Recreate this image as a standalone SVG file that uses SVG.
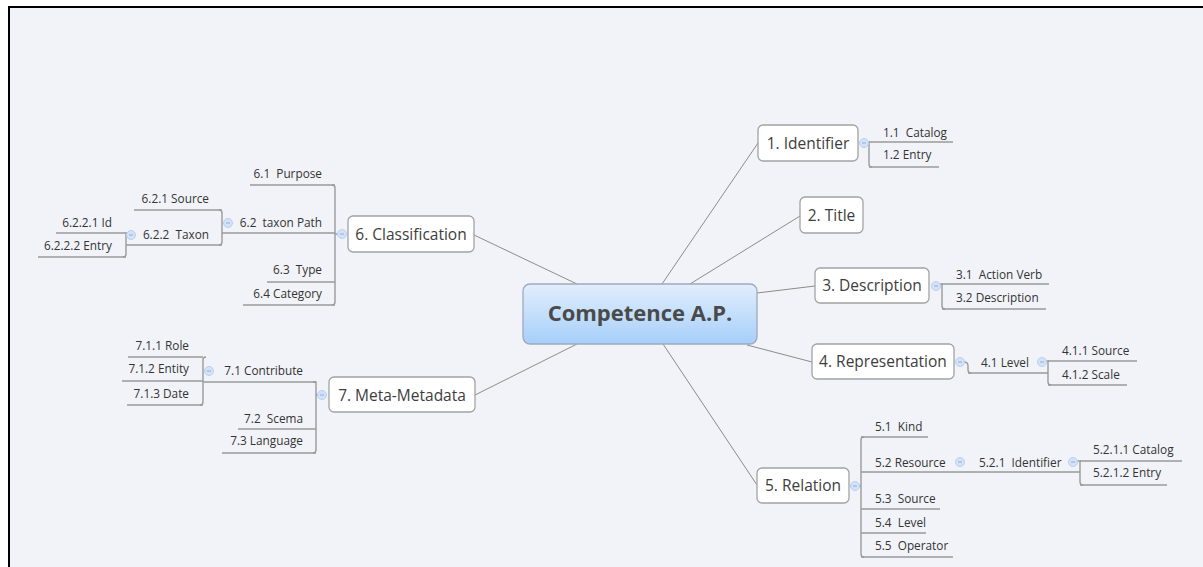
<svg xmlns="http://www.w3.org/2000/svg" width="1203" height="567" viewBox="0 0 1203 567">
  <defs>
    <linearGradient id="rootFill" x1="0" y1="0" x2="0" y2="1">
      <stop offset="0" stop-color="#e2eefc"/>
      <stop offset="1" stop-color="#a6cffa"/>
    </linearGradient>
    <g id="collapse">
      <circle r="4.5" fill="#d3e2f7" stroke="#b9cff0" stroke-width="1"/>
      <line x1="-2" y1="0" x2="2" y2="0" stroke="#8eaee0" stroke-width="1"/>
    </g>
  </defs>
  <style>
    .topic rect { fill: #ffffff; stroke: #a3a3a3; stroke-width: 1.3; }
    .topic text { font-family: "Open Sans", "Noto Sans", sans-serif; font-size: 15.5px; fill: #3d3d3d; text-anchor: middle; }
    .sub text { font-family: "Open Sans", "Noto Sans", sans-serif; font-size: 11.8px; fill: #333333; white-space: pre; }
    .sub line { stroke: #9a9a9a; stroke-width: 1.4; }
    .left text { text-anchor: end; }
    .link { fill: none; stroke: #8c8c8c; stroke-width: 1; }
    .bracket { fill: none; stroke: #9a9a9a; stroke-width: 1.4; }
  </style>

  <!-- canvas -->
  <rect x="0" y="0" width="1203" height="567" fill="#ffffff"/>
  <rect x="9" y="7" width="1194" height="560" fill="#f2f3f8"/>
  <line x1="8" y1="7" x2="1203" y2="7" stroke="#000000" stroke-width="2"/>
  <line x1="9" y1="6" x2="9" y2="567" stroke="#000000" stroke-width="2"/>

  <!-- connectors -->
  <g id="connectors">
    <line class="link" x1="662" y1="284" x2="758" y2="143"/>
    <line class="link" x1="690" y1="284" x2="800" y2="216"/>
    <line class="link" x1="757" y1="293" x2="815" y2="286"/>
    <line class="link" x1="747" y1="345" x2="812" y2="362"/>
    <line class="link" x1="663" y1="344" x2="757" y2="485"/>
    <line class="link" x1="577" y1="284" x2="474" y2="235"/>
    <line class="link" x1="577" y1="344" x2="475" y2="395"/>

    <!-- right brackets -->
    <path class="bracket" d="M866,142 H869 V164 Q869,167 872,167"/>
    <path class="bracket" d="M940,284 H942 V306 Q942,309 945,309"/>
    <path class="bracket" d="M964,362 Q968,362 968,366 V370 Q968,373 971,373"/>
    <path class="bracket" d="M1046,361 H1048 V382 Q1048,385 1051,385"/>
    <path class="bracket" d="M864,437 Q861,437 861,440 V554 Q861,557 864,557"/>
    <line class="bracket" x1="859" y1="486" x2="861" y2="486"/>
    <path class="bracket" d="M1077,461 H1080 V482 Q1080,485 1083,485"/>

    <!-- left brackets -->
    <path class="bracket" d="M332,185 Q335,185 335,188 V302 Q335,305 332,305"/>
    <line class="bracket" x1="335" y1="234" x2="338" y2="234"/>
    <path class="bracket" d="M219,210 Q222,210 222,213 V242 Q222,245 219,245"/>
    <path class="bracket" d="M129,233 H126 V254 Q126,257 123,257"/>
    <path class="bracket" d="M313,382 H316 V450 Q316,453 313,453"/>
    <line class="bracket" x1="316" y1="395" x2="318" y2="395"/>
    <path class="bracket" d="M206,357 Q203,357 203,360 V402 Q203,405 200,405"/>
  </g>

  <!-- central topic -->
  <g id="root">
    <rect x="523" y="284" width="234" height="60" rx="7" fill="url(#rootFill)" stroke="#9eaabb" stroke-width="1.3"/>
    <text x="640" y="321" font-family="'Open Sans', 'Noto Sans', sans-serif" font-size="22" font-weight="bold" fill="#4a4a4a" text-anchor="middle">Competence A.P.</text>
  </g>

  <!-- 1. Identifier -->
  <g id="identifier" class="topic">
    <rect x="758" y="125" width="100" height="36" rx="5"/>
    <text x="808" y="149">1. Identifier</text>
    <use href="#collapse" x="864" y="143"/>
  </g>
  <g id="identifier-catalog" class="sub">
    <text x="883" y="137">1.1  Catalog</text>
    <line x1="869" y1="142" x2="953" y2="142"/>
  </g>
  <g id="identifier-entry" class="sub">
    <text x="883" y="159">1.2 Entry</text>
    <line x1="869" y1="167" x2="939" y2="167"/>
  </g>

  <!-- 2. Title -->
  <g id="title" class="topic">
    <rect x="800" y="197" width="63" height="36" rx="5"/>
    <text x="831.5" y="221">2. Title</text>
  </g>

  <!-- 3. Description -->
  <g id="description" class="topic">
    <rect x="815" y="268" width="114" height="35" rx="5"/>
    <text x="872" y="291">3. Description</text>
    <use href="#collapse" x="936" y="286"/>
  </g>
  <g id="description-verb" class="sub">
    <text x="956" y="279">3.1  Action Verb</text>
    <line x1="942" y1="284" x2="1049" y2="284"/>
  </g>
  <g id="description-text" class="sub">
    <text x="956" y="302">3.2 Description</text>
    <line x1="942" y1="309" x2="1046" y2="309"/>
  </g>

  <!-- 4. Representation -->
  <g id="representation" class="topic">
    <rect x="812" y="344" width="142" height="35" rx="5"/>
    <text x="883" y="367">4. Representation</text>
    <use href="#collapse" x="960" y="362"/>
  </g>
  <g id="representation-level" class="sub">
    <text x="981" y="367">4.1 Level</text>
    <line x1="968" y1="373" x2="1048" y2="373"/>
    <use href="#collapse" x="1042" y="362"/>
  </g>
  <g id="level-source" class="sub">
    <text x="1062" y="355">4.1.1 Source</text>
    <line x1="1048" y1="361" x2="1137" y2="361"/>
  </g>
  <g id="level-scale" class="sub">
    <text x="1062" y="379">4.1.2 Scale</text>
    <line x1="1048" y1="385" x2="1127" y2="385"/>
  </g>

  <!-- 5. Relation -->
  <g id="relation" class="topic">
    <rect x="757" y="468" width="92" height="35" rx="5"/>
    <text x="803" y="491">5. Relation</text>
    <use href="#collapse" x="855" y="486"/>
  </g>
  <g id="relation-kind" class="sub">
    <text x="875" y="431">5.1  Kind</text>
    <line x1="861" y1="437" x2="928" y2="437"/>
  </g>
  <g id="relation-resource" class="sub">
    <text x="875" y="467">5.2 Resource</text>
    <line x1="861" y1="472" x2="972" y2="472"/>
    <use href="#collapse" x="960" y="462"/>
  </g>
  <g id="resource-identifier" class="sub">
    <text x="979" y="467">5.2.1  Identifier</text>
    <line x1="972" y1="472" x2="1080" y2="472"/>
    <use href="#collapse" x="1073" y="462"/>
  </g>
  <g id="identifier-catalog-2" class="sub">
    <text x="1093" y="454">5.2.1.1 Catalog</text>
    <line x1="1080" y1="461" x2="1182" y2="461"/>
  </g>
  <g id="identifier-entry-2" class="sub">
    <text x="1093" y="477">5.2.1.2 Entry</text>
    <line x1="1080" y1="485" x2="1167" y2="485"/>
  </g>
  <g id="relation-source" class="sub">
    <text x="875" y="503">5.3  Source</text>
    <line x1="861" y1="509" x2="940" y2="509"/>
  </g>
  <g id="relation-level" class="sub">
    <text x="875" y="527">5.4  Level</text>
    <line x1="861" y1="533" x2="926" y2="533"/>
  </g>
  <g id="relation-operator" class="sub">
    <text x="875" y="550">5.5  Operator</text>
    <line x1="861" y1="557" x2="953" y2="557"/>
  </g>

  <!-- 6. Classification -->
  <g id="classification" class="topic">
    <rect x="348" y="216" width="126" height="36" rx="5"/>
    <text x="411" y="240">6. Classification</text>
    <use href="#collapse" x="342" y="234"/>
  </g>
  <g id="classification-purpose" class="sub left">
    <text x="322" y="178">6.1  Purpose</text>
    <line x1="250" y1="185" x2="335" y2="185"/>
  </g>
  <g id="classification-taxonpath" class="sub left">
    <text x="322" y="227">6.2  taxon Path</text>
    <line x1="222" y1="233" x2="335" y2="233"/>
    <use href="#collapse" x="228" y="223"/>
  </g>
  <g id="taxonpath-source" class="sub left">
    <text x="209" y="203">6.2.1 Source</text>
    <line x1="134" y1="210" x2="222" y2="210"/>
  </g>
  <g id="taxonpath-taxon" class="sub left">
    <text x="209" y="239">6.2.2  Taxon</text>
    <line x1="126" y1="245" x2="222" y2="245"/>
    <use href="#collapse" x="131" y="235"/>
  </g>
  <g id="taxon-id" class="sub left">
    <text x="112" y="227">6.2.2.1 Id</text>
    <line x1="56" y1="233" x2="126" y2="233"/>
  </g>
  <g id="taxon-entry" class="sub left">
    <text x="112" y="250">6.2.2.2 Entry</text>
    <line x1="38" y1="257" x2="126" y2="257"/>
  </g>
  <g id="classification-type" class="sub left">
    <text x="322" y="274">6.3  Type</text>
    <line x1="267" y1="282" x2="335" y2="282"/>
  </g>
  <g id="classification-category" class="sub left">
    <text x="322" y="298">6.4 Category</text>
    <line x1="243" y1="305" x2="335" y2="305"/>
  </g>

  <!-- 7. Meta-Metadata -->
  <g id="metametadata" class="topic">
    <rect x="329" y="377" width="146" height="35" rx="5"/>
    <text x="402" y="401">7. Meta-Metadata</text>
    <use href="#collapse" x="322" y="395"/>
  </g>
  <g id="metametadata-contribute" class="sub left">
    <text x="303" y="375">7.1 Contribute</text>
    <line x1="203" y1="382" x2="316" y2="382"/>
    <use href="#collapse" x="209" y="371"/>
  </g>
  <g id="contribute-role" class="sub left">
    <text x="189" y="350">7.1.1 Role</text>
    <line x1="128" y1="357" x2="203" y2="357"/>
  </g>
  <g id="contribute-entity" class="sub left">
    <text x="189" y="373">7.1.2 Entity</text>
    <line x1="122" y1="381" x2="203" y2="381"/>
  </g>
  <g id="contribute-date" class="sub left">
    <text x="189" y="398">7.1.3 Date</text>
    <line x1="127" y1="405" x2="203" y2="405"/>
  </g>
  <g id="metametadata-schema" class="sub left">
    <text x="303" y="423">7.2  Scema</text>
    <line x1="238" y1="429" x2="316" y2="429"/>
  </g>
  <g id="metametadata-language" class="sub left">
    <text x="303" y="445">7.3 Language</text>
    <line x1="222" y1="453" x2="316" y2="453"/>
  </g>
</svg>
